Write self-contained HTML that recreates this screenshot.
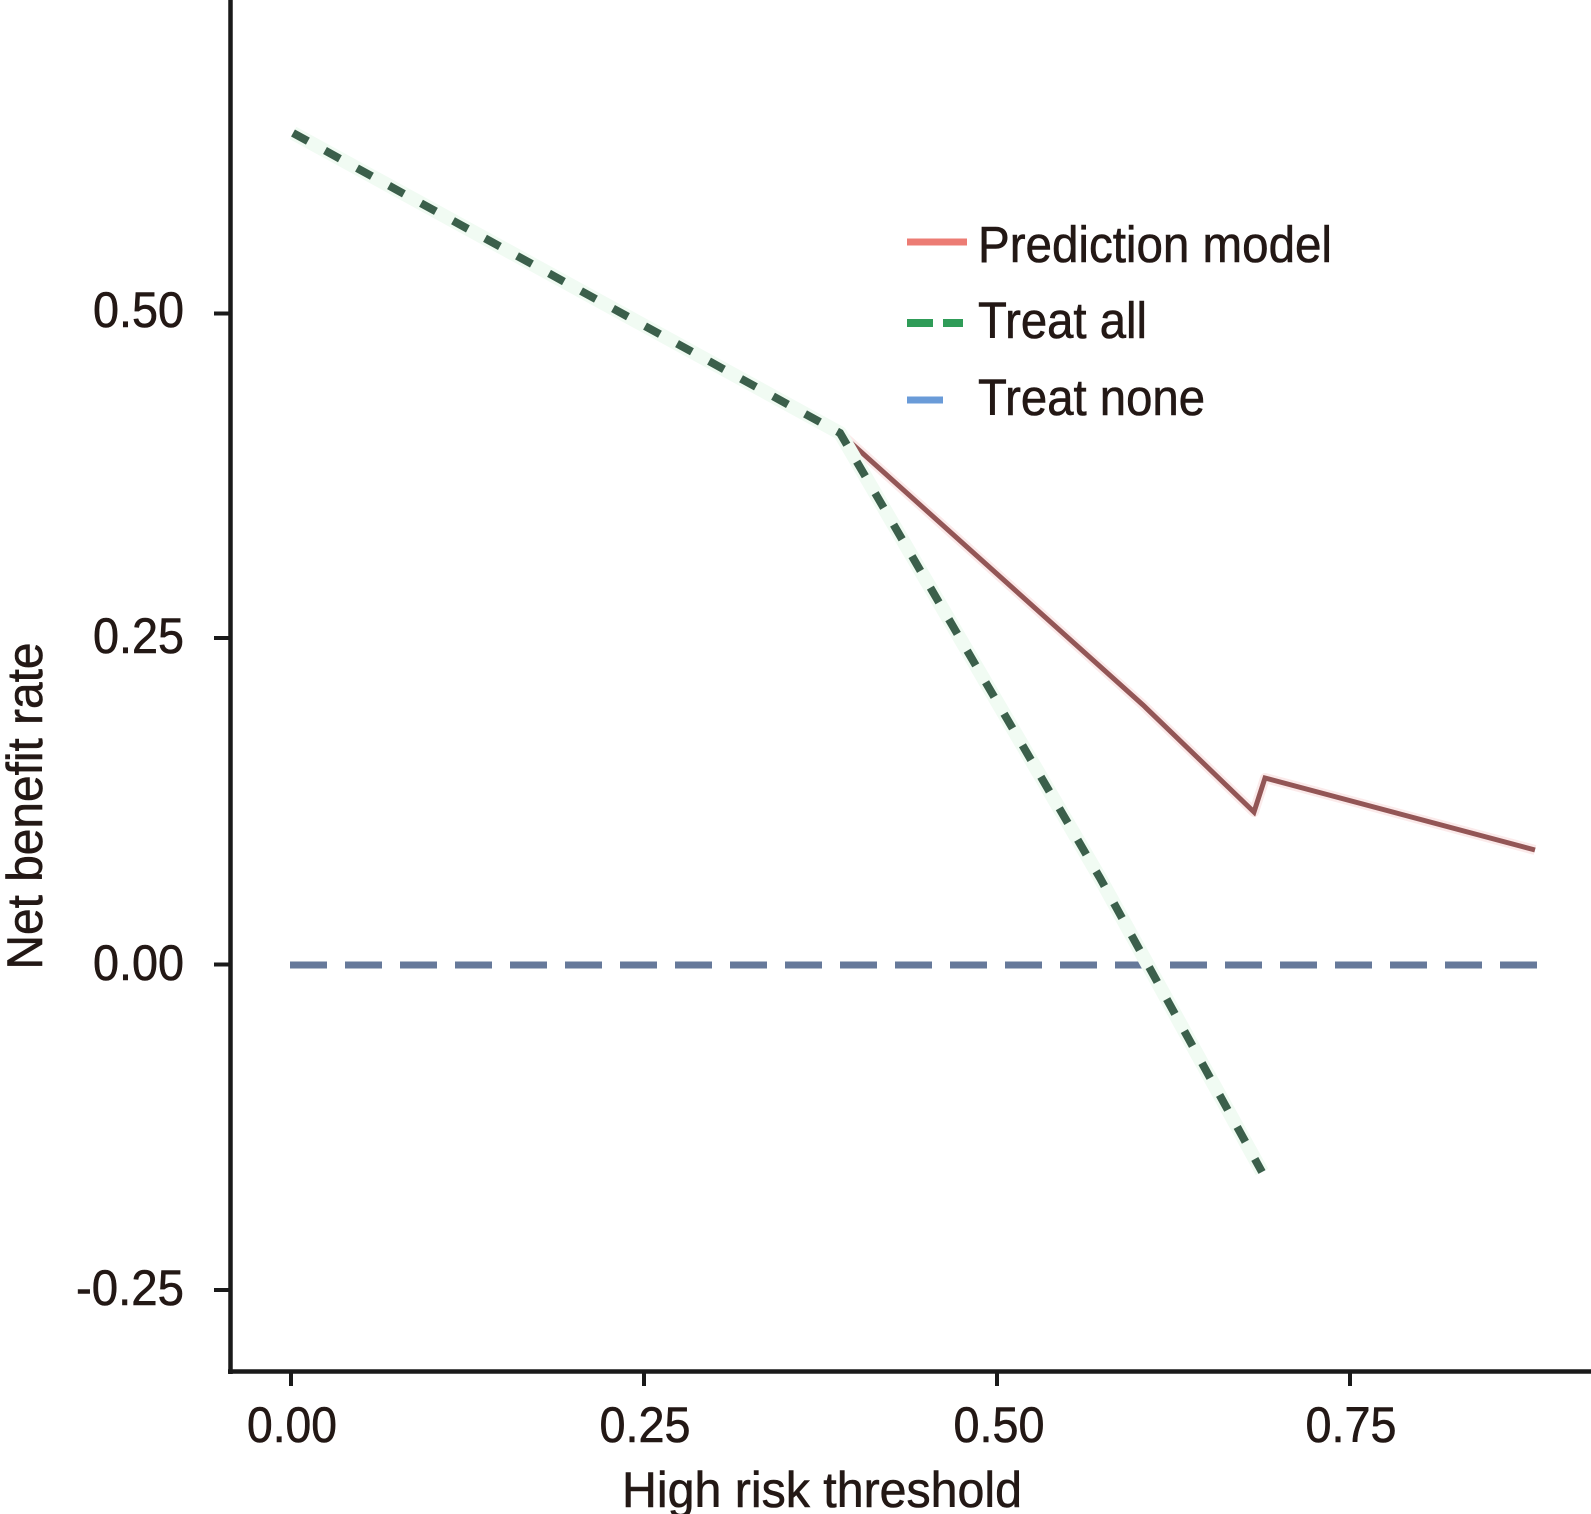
<!DOCTYPE html>
<html>
<head>
<meta charset="utf-8">
<style>
  html, body { margin: 0; padding: 0; background: #ffffff; }
  svg { display: block; }
  text { font-family: "Liberation Sans", "DejaVu Sans", sans-serif; fill: #231815; stroke: #231815; stroke-width: 0.6; }
</style>
</head>
<body>
<svg width="1591" height="1514" viewBox="0 0 1591 1514" xmlns="http://www.w3.org/2000/svg">
  <rect x="0" y="0" width="1591" height="1514" fill="#ffffff"/>

  <!-- Treat none (blue dashed) -->
  <line x1="290" y1="965" x2="1537" y2="965" stroke="#66799a" stroke-width="7" stroke-dasharray="37 18"/>

  <!-- Prediction model (red) -->
  <polyline points="840,433 1143,705 1254,812 1265,778 1535,850" fill="none" stroke="#fbeaea" stroke-width="10" stroke-linejoin="round"/>
  <polyline points="840,433 1143,705 1254,812 1265,778 1535,850" fill="none" stroke="#935656" stroke-width="5" stroke-linejoin="miter"/>

  <!-- Treat all (green dashed) -->
  <polyline points="293,133 840,433 1100,878 1262,1172" fill="none" stroke="#f1fbf3" stroke-width="14" stroke-linejoin="round"/>
  <polyline points="293,133 840,433 1100,878 1262,1172" fill="none" stroke="#3b5f4b" stroke-width="8" stroke-dasharray="17 19.5"/>

  <!-- Axes -->
  <line x1="230.5" y1="0" x2="230.5" y2="1374" stroke="#1a1a1a" stroke-width="4.5"/>
  <line x1="228" y1="1371.5" x2="1591" y2="1371.5" stroke="#1a1a1a" stroke-width="4.5"/>

  <!-- Y ticks -->
  <g stroke="#1a1a1a" stroke-width="4">
    <line x1="214" y1="313.5" x2="231" y2="313.5"/>
    <line x1="214" y1="638" x2="231" y2="638"/>
    <line x1="214" y1="964.5" x2="231" y2="964.5"/>
    <line x1="214" y1="1290" x2="231" y2="1290"/>
  </g>
  <!-- X ticks -->
  <g stroke="#1a1a1a" stroke-width="4">
    <line x1="291" y1="1372" x2="291" y2="1386"/>
    <line x1="644" y1="1372" x2="644" y2="1386"/>
    <line x1="997" y1="1372" x2="997" y2="1386"/>
    <line x1="1350" y1="1372" x2="1350" y2="1386"/>
  </g>

  <!-- Y tick labels -->
  <g font-size="50" text-anchor="end">
    <text x="184" y="327" textLength="91" lengthAdjust="spacingAndGlyphs">0.50</text>
    <text x="184" y="653" textLength="91" lengthAdjust="spacingAndGlyphs">0.25</text>
    <text x="184" y="980" textLength="91" lengthAdjust="spacingAndGlyphs">0.00</text>
    <text x="184" y="1305" textLength="108" lengthAdjust="spacingAndGlyphs">-0.25</text>
  </g>

  <!-- X tick labels -->
  <g font-size="50" text-anchor="middle">
    <text x="292" y="1442" textLength="90" lengthAdjust="spacingAndGlyphs">0.00</text>
    <text x="645" y="1442" textLength="91" lengthAdjust="spacingAndGlyphs">0.25</text>
    <text x="999" y="1442" textLength="91" lengthAdjust="spacingAndGlyphs">0.50</text>
    <text x="1351" y="1442" textLength="91" lengthAdjust="spacingAndGlyphs">0.75</text>
  </g>

  <!-- Axis titles -->
  <text x="822" y="1507" font-size="50" text-anchor="middle" textLength="400" lengthAdjust="spacingAndGlyphs">High risk threshold</text>
  <text transform="translate(42,806) rotate(-90)" font-size="50" text-anchor="middle" textLength="327" lengthAdjust="spacingAndGlyphs">Net benefit rate</text>

  <!-- Legend -->
  <line x1="907" y1="242" x2="967" y2="242" stroke="#ec7c74" stroke-width="7"/>
  <rect x="907" y="319" width="26" height="8" fill="#2f9c58"/>
  <rect x="943" y="319" width="20" height="8" fill="#2f9c58"/>
  <line x1="907" y1="400" x2="943" y2="400" stroke="#6a9bd8" stroke-width="7"/>

  <g font-size="51">
    <text x="978" y="262" textLength="354" lengthAdjust="spacingAndGlyphs">Prediction model</text>
    <text x="978" y="338" textLength="169" lengthAdjust="spacingAndGlyphs">Treat all</text>
    <text x="978" y="415" textLength="227" lengthAdjust="spacingAndGlyphs">Treat none</text>
  </g>
</svg>
</body>
</html>
